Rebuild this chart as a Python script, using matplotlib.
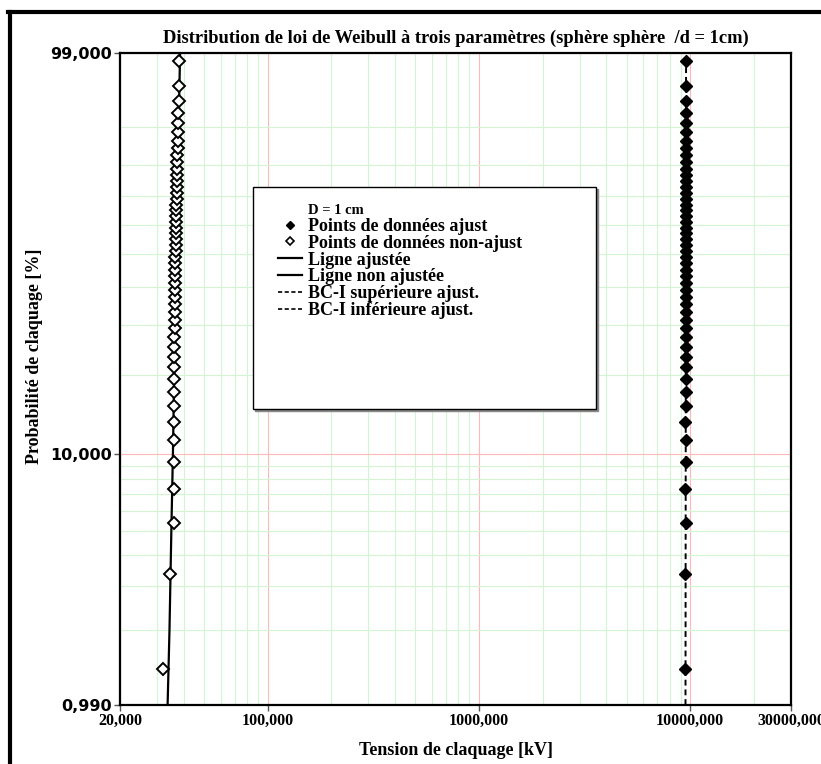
import numpy as np
import matplotlib
matplotlib.use("Agg")
import matplotlib.pyplot as plt
from matplotlib.lines import Line2D
from matplotlib.patches import Rectangle
from matplotlib.ticker import FixedLocator, NullFormatter

# probabilite de claquage [%] (rangs des 50 essais)
prob = [1.39, 3.37, 5.36, 7.34, 9.33, 11.31, 13.29, 15.28, 17.26, 19.25,
        21.23, 23.21, 25.20, 27.18, 29.17, 31.15, 33.13, 35.12, 37.10, 39.09,
        41.07, 43.06, 45.04, 47.02, 49.01, 50.99, 52.98, 54.96, 56.94, 58.93,
        60.91, 62.90, 64.88, 66.87, 68.85, 70.83, 72.82, 74.80, 76.79, 78.77,
        80.75, 82.74, 84.72, 86.71, 88.69, 90.67, 92.66, 94.64, 96.63, 98.61]

# tension [kV] - points non ajustes
u_nonajust = [32.0, 34.4, 35.9, 36.0, 36.0, 36.0, 36.0, 36.1, 36.1, 36.1,
              36.1, 36.2, 36.2, 36.2, 36.3, 36.3, 36.3, 36.4, 36.4, 36.4,
              36.5, 36.5, 36.6, 36.6, 36.6, 36.7, 36.7, 36.7, 36.8, 36.8,
              36.9, 36.9, 37.0, 37.0, 37.1, 37.1, 37.2, 37.2, 37.3, 37.3,
              37.4, 37.4, 37.5, 37.5, 37.6, 37.6, 37.8, 37.9, 37.9, 38.1]
# tension [kV] - points ajustes
u_ajust = [9500, 9500, 9510, 9500, 9510, 9510, 9500, 9510, 9510, 9510,
           9510, 9510, 9520, 9520, 9520, 9520, 9520, 9520, 9520, 9520,
           9520, 9530, 9530, 9530, 9530, 9530, 9530, 9530, 9530, 9530,
           9540, 9540, 9540, 9540, 9540, 9540, 9540, 9540, 9550, 9550,
           9550, 9550, 9550, 9550, 9550, 9560, 9560, 9560, 9560, 9560]

# lignes
line_p = [0.99, 2, 5, 10, 30, 60, 90, 99]
line_nonajust = [33.6, 34.3, 35.0, 35.6, 36.4, 37.0, 37.9, 38.5]
bc_p = [0.99, 99]
bc_ajust = [9500, 9560]

xticks = [20, 100, 1000, 10000, 30000]
xticklabels = ['20,000', '100,000', '1000,000', '10000,000', '30000,000']
yticks = [0.99, 10, 99]
yticklabels = ['0,990', '10,000', '99,000']


def fwd(p):
    p = np.clip(np.asarray(p, dtype=float), 1e-6, 99.99999)
    return np.log(-np.log(1 - p / 100.0))


def inv(z):
    return 100.0 * (1 - np.exp(-np.exp(z)))


serif = 'Liberation Serif'

fig = plt.figure(figsize=(8.21, 7.64), dpi=100, facecolor='white')
ax = fig.add_axes([120 / 821, 59 / 764, 671 / 821, 652 / 764])

ax.set_xscale('log')
ax.set_yscale('function', functions=(fwd, inv))
ax.set_xlim(20, 30000)
ax.set_ylim(0.99, 99)

ax.xaxis.set_major_locator(FixedLocator(xticks))
ax.xaxis.set_minor_locator(FixedLocator([30, 40, 50, 60, 70, 80, 90,
                                         200, 300, 400, 500, 600, 700, 800, 900,
                                         2000, 3000, 4000, 5000, 6000, 7000, 8000, 9000,
                                         20000]))
ax.xaxis.set_minor_formatter(NullFormatter())
ax.set_xticklabels(xticklabels, fontfamily=serif, fontweight='bold', fontsize=11.5)

ax.yaxis.set_major_locator(FixedLocator(yticks))
ax.yaxis.set_minor_locator(FixedLocator([2, 3, 4, 5, 6, 7, 8, 9,
                                         20, 30, 40, 50, 60, 70, 80, 90]))
ax.yaxis.set_minor_formatter(NullFormatter())
ax.set_yticklabels(yticklabels, fontfamily='DejaVu Sans', fontweight='bold', fontsize=11.5)

ax.tick_params(which='major', direction='out', length=4, width=1, color='#555555', pad=2)
ax.tick_params(which='minor', length=0)

ax.grid(which='minor', color='#d3f5d3', linewidth=0.8)
ax.grid(which='major', color='#ffb8b8', linewidth=0.8)
ax.set_axisbelow(True)

for s in ax.spines.values():
    s.set_linewidth(1.6)
    s.set_color('black')

# donnees
ax.plot(line_nonajust, line_p, color='black', lw=1.6, zorder=3)
ax.plot(bc_ajust, bc_p, color='black', lw=1.4, ls=(0, (3, 2)), zorder=3)
ax.plot(u_ajust, prob, ls='none', marker='D', ms=6, mfc='black', mec='black', zorder=4)
ax.plot(u_nonajust, prob, ls='none', marker='D', ms=5.8, mfc='white', mec='black',
        mew=1.4, zorder=4)

ax.set_title('Distribution de loi de Weibull à trois paramètres (sphère sphère  /d = 1cm)',
             fontfamily=serif, fontweight='bold', fontsize=13.3, pad=7)
ax.set_xlabel('Tension de claquage [kV]', fontfamily=serif, fontweight='bold', fontsize=13)
ax.xaxis.set_label_coords(0.5, -0.057)
ax.set_ylabel('Probabilité de claquage [%]', fontfamily=serif, fontweight='bold', fontsize=13)
ax.yaxis.set_label_coords(-0.115, 0.535)

# cadre de legende
bx0, by0, bw, bh = 0.198, 0.454, 0.511, 0.340
ax.add_patch(Rectangle((bx0 + 0.003, by0 - 0.003), bw, bh, transform=ax.transAxes,
                       facecolor='#888888', edgecolor='#888888', lw=1, zorder=5))
ax.add_patch(Rectangle((bx0, by0), bw, bh, transform=ax.transAxes,
                       facecolor='white', edgecolor='black', lw=1, zorder=6))

handles = [
    Line2D([], [], ls='none', marker='D', ms=4, mfc='black', mec='black'),
    Line2D([], [], ls='none', marker='D', ms=4, mfc='white', mec='black', mew=1.2),
    Line2D([], [], color='black', lw=1.6),
    Line2D([], [], color='black', lw=1.6),
    Line2D([], [], color='black', lw=1.2, ls=(0, (2.5, 1.5))),
    Line2D([], [], color='black', lw=1.2, ls=(0, (2.5, 1.5))),
]
labels = ['Points de données ajust', 'Points de données non-ajust', 'Ligne ajustée',
          'Ligne non ajustée', 'BC-I supérieure ajust.', 'BC-I inférieure ajust.']
leg = ax.legend(handles, labels, loc='upper left', bbox_to_anchor=(0.2355, 0.747),
                frameon=False, prop={'family': serif, 'weight': 'bold', 'size': 13},
                handlelength=1.34, handletextpad=0.33, labelspacing=-0.01, borderpad=0,
                borderaxespad=0)
leg.set_zorder(7)
ax.text(0.280, 0.759, 'D = 1 cm', transform=ax.transAxes, fontfamily=serif,
        fontweight='bold', fontsize=10.5, va='center', ha='left', zorder=7)

# cadre de la figure
fig.add_artist(Line2D([9.5 / 821, 9.5 / 821], [0, 1 - 12 / 764], color='black', lw=3))
fig.add_artist(Line2D([8 / 821, 1], [1 - 12 / 764, 1 - 12 / 764], color='black', lw=3))

fig.savefig('out.png', dpi=100)
